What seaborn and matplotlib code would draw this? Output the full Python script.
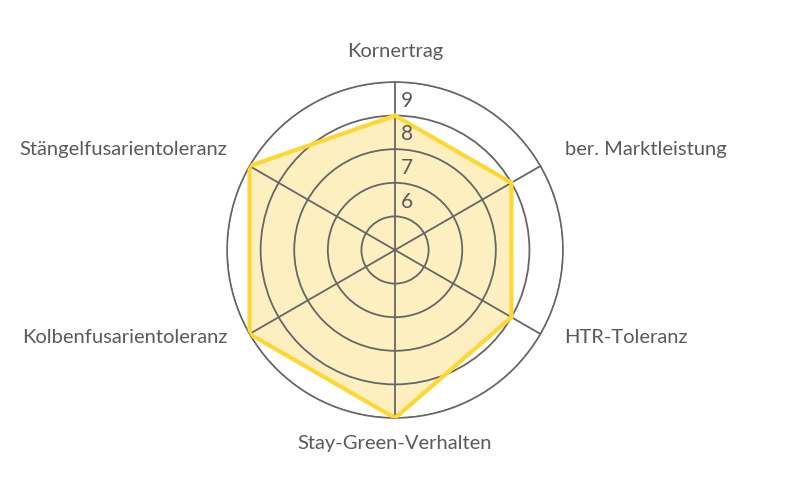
import numpy as np
import matplotlib
matplotlib.use("Agg")
import matplotlib.pyplot as plt
import seaborn as sns

# Daten
categories = ["Kornertrag", "ber. Marktleistung", "HTR-Toleranz",
              "Stay-Green-Verhalten", "Kolbenfusarientoleranz", "Stängelfusarientoleranz"]
values = [8, 8, 8, 9, 9, 9]
ring_values = [5, 6, 7, 8, 9]
ring_labels = ["6", "7", "8", "9"]
r_min, r_max = 4, 9

GRID = "#666666"
TEXT = "#5a5a5a"
FILL = "#fdefbf"
EDGE = "#fdd835"

sns.set_theme(style="white")
plt.rcParams["font.family"] = ["Lato", "DejaVu Sans"]

fig = plt.figure(figsize=(7.91, 5.0), dpi=100)
ax = fig.add_axes([0.287, 0.164, 0.4248, 0.672], projection="polar")
ax.set_theta_offset(np.pi / 2)
ax.set_theta_direction(-1)
ax.set_ylim(r_min, r_max)

n = len(categories)
angles = np.linspace(0, 2 * np.pi, n, endpoint=False)
closed_a = np.append(angles, angles[0])
closed_v = values + values[:1]

ax.fill(closed_a, closed_v, color=FILL, zorder=1)
ax.plot(closed_a, closed_v, color=EDGE, linewidth=3, zorder=4, solid_joinstyle="miter")

# Ringe und Speichen
ax.set_rgrids(ring_values, labels=[""] * len(ring_values))
ax.set_thetagrids(np.degrees(angles), labels=[""] * n)
ax.grid(True, color=GRID, linewidth=1.3, zorder=3)
for gl in ax.yaxis.get_gridlines() + ax.xaxis.get_gridlines():
    gl.set_zorder(3)
ax.set_axisbelow(False)
ax.spines["polar"].set_color(GRID)
ax.spines["polar"].set_linewidth(1.1)
ax.tick_params(length=0, pad=0)
ax.set_facecolor("none")

# Ringbeschriftung
for lab in ring_labels:
    v = int(lab)
    ax.annotate(lab, xy=(0, v - 0.5), xytext=(4.5, 0), textcoords="offset points",
                ha="left", va="center_baseline", fontsize=15, color=TEXT, zorder=5)

# Achsenbeschriftung
for a, cat in zip(angles, categories):
    deg = np.degrees(a) % 360
    dx, dy = 0, 0
    if deg < 1 or deg > 359:
        ha, r, dy = "center", 9.95, 0
    elif abs(deg - 180) < 1:
        ha, r, dy = "center", 9.7, 0
    elif deg < 180:
        ha, r, dx = "left", 9.9, -1.5
        dy = 2 if deg < 90 else 9.5
    else:
        ha, r, dx = "right", 9.9, 3
        dy = 2 if deg > 270 else 9.5
    ax.annotate(cat, xy=(a, r), xytext=(dx, dy), textcoords="offset points",
                ha=ha, va="center_baseline", fontsize=14.5, color=TEXT,
                annotation_clip=False)

fig.savefig("out.png", dpi=100, facecolor="white")
